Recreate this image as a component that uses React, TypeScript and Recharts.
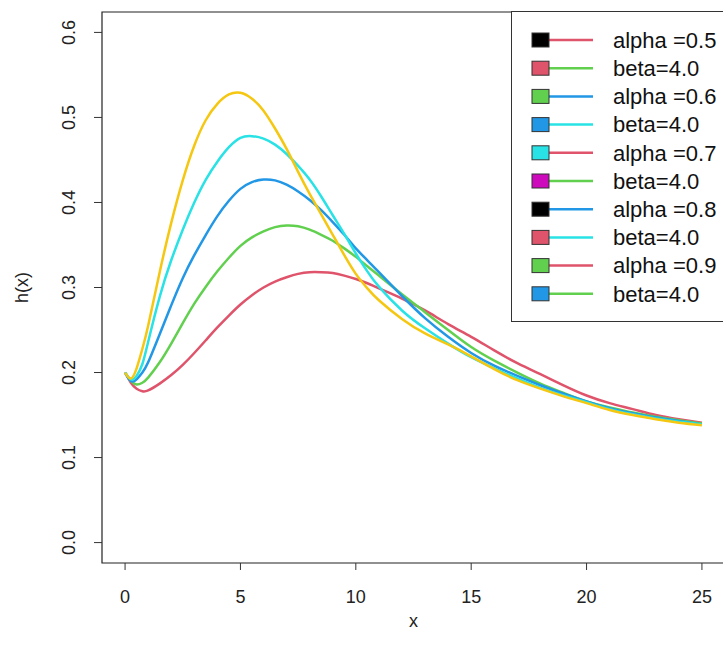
import { LineChart, Line, XAxis, YAxis, ReferenceArea } from "recharts";

// x grid the curves were read at
const xValues = [
  0, 0.25, 0.5, 0.75, 1, 1.5, 2, 2.5, 3, 3.5, 4, 4.5, 5, 5.5, 6, 6.5, 7, 7.5, 8, 8.5, 9, 9.5, 10,
  10.5, 11, 12, 13, 14, 15, 16, 17, 18, 19, 20, 21, 22, 23, 24, 25,
];

const alpha05 = [
  0.2, 0.188, 0.181, 0.178, 0.179, 0.187, 0.197, 0.209, 0.223, 0.238, 0.253, 0.267, 0.28, 0.291,
  0.3, 0.307, 0.312, 0.316, 0.318, 0.318, 0.317, 0.314, 0.31, 0.305, 0.299, 0.287, 0.273, 0.257,
  0.242, 0.226, 0.211, 0.198, 0.185, 0.173, 0.164, 0.157, 0.15, 0.145, 0.141,
];
const alpha06 = [
  0.2, 0.19, 0.186, 0.188, 0.194, 0.212, 0.234, 0.258, 0.281, 0.301, 0.319, 0.335, 0.349, 0.359,
  0.366, 0.371, 0.373, 0.372, 0.368, 0.362, 0.355, 0.346, 0.336, 0.325, 0.314, 0.292, 0.271, 0.25,
  0.23, 0.214, 0.2, 0.187, 0.176, 0.166, 0.159, 0.153, 0.148, 0.144, 0.14,
];
const alpha07 = [
  0.2, 0.19, 0.192, 0.2, 0.212, 0.245, 0.279, 0.311, 0.338, 0.362, 0.384, 0.402, 0.416, 0.424,
  0.427, 0.426, 0.421, 0.413, 0.403, 0.391, 0.377, 0.362, 0.346, 0.332, 0.318, 0.29, 0.264, 0.242,
  0.223, 0.208, 0.196, 0.185, 0.175, 0.166, 0.158, 0.152, 0.147, 0.143, 0.139,
];
const alpha08 = [
  0.2, 0.192, 0.196, 0.21, 0.236, 0.289, 0.332, 0.368, 0.4, 0.427, 0.448, 0.465, 0.476, 0.478,
  0.475, 0.468, 0.457, 0.443, 0.427, 0.407, 0.385, 0.363, 0.34, 0.319, 0.301, 0.273, 0.252, 0.234,
  0.218, 0.205, 0.193, 0.182, 0.173, 0.165, 0.157, 0.151, 0.146, 0.142, 0.139,
];
const alpha09 = [
  0.2, 0.193, 0.205, 0.228, 0.255, 0.318, 0.376, 0.426, 0.467, 0.497, 0.516, 0.527, 0.529, 0.522,
  0.508, 0.487, 0.463, 0.436, 0.41, 0.386, 0.362, 0.338, 0.316, 0.299, 0.285, 0.263, 0.246, 0.233,
  0.219, 0.204, 0.191, 0.181, 0.172, 0.164, 0.156, 0.15, 0.145, 0.141, 0.138,
];

const seriesKeys = ["a05", "a06", "a07", "a08", "a09"];
const seriesColors = ["#DF536B", "#61D04F", "#2297E6", "#28E2E5", "#F5C710"];

const xTicks = [0, 5, 10, 15, 20, 25];
const yTicks = [0, 0.1, 0.2, 0.3, 0.4, 0.5, 0.6];

// legend as drawn in the original (fills and lines don't line up with the curves)
const legendLabels = [
  "alpha =0.5", "beta=4.0", "alpha =0.6", "beta=4.0", "alpha =0.7",
  "beta=4.0", "alpha =0.8", "beta=4.0", "alpha =0.9", "beta=4.0",
];
const legendFills = [
  "#000000", "#DF536B", "#61D04F", "#2297E6", "#28E2E5",
  "#CD0BBC", "#000000", "#DF536B", "#61D04F", "#2297E6",
];
const legendLines = [
  "#DF536B", "#61D04F", "#2297E6", "#28E2E5", "#DF536B",
  "#61D04F", "#2297E6", "#28E2E5", "#DF536B", "#61D04F",
];

const data = xValues.map((x, i) => ({
  x,
  a05: alpha05[i],
  a06: alpha06[i],
  a07: alpha07[i],
  a08: alpha08[i],
  a09: alpha09[i],
}));

const FONT = "'Liberation Sans', Arial, sans-serif";

function XTick({ x, y, payload }: any) {
  return (
    <text x={x} y={y + 31} textAnchor="middle" fontSize={18} fontFamily={FONT} fill="#222">
      {payload.value}
    </text>
  );
}

function YTick({ x, y, payload }: any) {
  return (
    <text
      transform={`translate(${x - 17},${y}) rotate(-90)`}
      textAnchor="middle"
      fontSize={18}
      fontFamily={FONT}
      fill="#222"
    >
      {payload.value.toFixed(1)}
    </text>
  );
}

function LegendBox() {
  return (
    <div
      style={{
        position: "absolute",
        left: 511,
        top: 11,
        width: 240,
        height: 311,
        border: "1px solid #333",
        background: "#fff",
        boxSizing: "border-box",
      }}
    >
      <svg width={240} height={309} style={{ display: "block" }}>
        {legendLabels.map((label, i) => {
          const cy = 28 + i * 28.2;
          return (
            <g key={i}>
              <line x1={37} x2={81} y1={cy} y2={cy} stroke={legendLines[i]} strokeWidth={2.5} />
              <rect x={20} y={cy - 7} width={17} height={14} fill={legendFills[i]} stroke="#333" strokeWidth={1} />
              <text x={101} y={cy} dy="0.35em" fontSize={22} fontFamily={FONT} fill="#111">
                {label}
              </text>
            </g>
          );
        })}
      </svg>
    </div>
  );
}

export default function App() {
  return (
    <div
      style={{
        position: "absolute",
        left: 0,
        top: 0,
        width: 723,
        height: 657,
        overflow: "hidden",
        background: "#fff",
      }}
    >
      <LineChart width={740} height={657} data={data} margin={{ top: 12, right: 15, bottom: 0, left: 0 }}>
        <XAxis
          dataKey="x"
          type="number"
          domain={[-1, 26]}
          ticks={xTicks}
          allowDataOverflow
          height={94}
          axisLine={false}
          tickLine={{ stroke: "#333" }}
          tickSize={7}
          tick={<XTick />}
          label={{
            value: "x",
            position: "insideBottom",
            offset: 30,
            fontSize: 18,
            fontFamily: FONT,
            fill: "#222",
          }}
        />
        <YAxis
          type="number"
          domain={[-0.024, 0.624]}
          ticks={yTicks}
          allowDataOverflow
          width={102}
          axisLine={false}
          tickLine={{ stroke: "#333" }}
          tickSize={8}
          tick={<YTick />}
          label={{
            content: ({ viewBox }: any) => (
              <text
                transform={`translate(${viewBox.x + 28},${viewBox.y + viewBox.height / 2}) rotate(-90)`}
                textAnchor="middle"
                fontSize={18}
                fontFamily={FONT}
                fill="#222"
              >
                h(x)
              </text>
            ),
          }}
        />
        <ReferenceArea
          x1={-1}
          x2={26}
          y1={-0.024}
          y2={0.624}
          fill="none"
          fillOpacity={0}
          stroke="#222"
          strokeWidth={1.2}
          ifOverflow="visible"
        />
        {seriesKeys.map((k, i) => (
          <Line
            key={k}
            dataKey={k}
            type="natural"
            stroke={seriesColors[i]}
            strokeWidth={2.5}
            dot={false}
            isAnimationActive={false}
          />
        ))}
      </LineChart>
      <LegendBox />
    </div>
  );
}
